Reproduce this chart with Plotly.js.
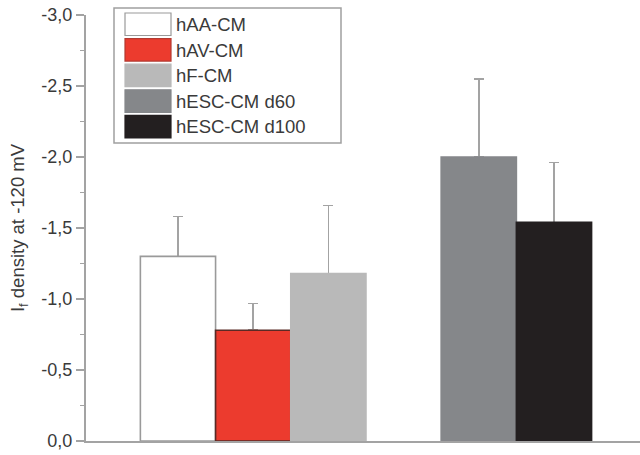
<!DOCTYPE html>
<html>
<head>
<meta charset="utf-8">
<script src="https://cdn.plot.ly/plotly-3.0.1.min.js"></script>
<style>html,body{margin:0;padding:0;background:#fff;}#chart{width:640px;height:455px;}</style>
</head>
<body>
<div id="chart"></div>
<script>
// ---- data ----
const groups = ["hAA-CM", "hAV-CM", "hF-CM", "hESC-CM d60", "hESC-CM d100"];
const positions = [0, 1, 2, 4, 5];
const means = [-1.30, -0.78, -1.18, -2.00, -1.54];
const errors = [0.28, 0.19, 0.48, 0.55, 0.42];
const fillColors = ["#ffffff", "#ec3b2e", "#b9b9b9", "#85878a", "#231f20"];
const lineColors = ["#9a9a9a", "#5a2a25", "#b9b9b9", "#85878a", "#231f20"];
const tickVals = [0, -0.5, -1.0, -1.5, -2.0, -2.5, -3.0];
const tickText = ["0,0", "-0,5", "-1,0", "-1,5", "-2,0", "-2,5", "-3,0"];

// ---- layout constants ----
const W = 640, H = 455, L = 86, R = 0, T = 15, B = 14;
const pw = W - L - R, ph = H - T - B;
const px = x => (x - L) / pw;
const py = y => (H - B - y) / ph;
const font = "Liberation Sans, Arial, Helvetica, sans-serif";

// error bars (drawn first, so the bars hide the lower cap)
const errTrace = {
  type: "bar",
  x: positions,
  y: means,
  width: 1,
  marker: { color: "rgba(0,0,0,0)", line: { width: 0 } },
  error_y: {
    type: "data", symmetric: false,
    array: means.map(() => 0), arrayminus: errors,
    color: "#a3a3a3", thickness: 1.5, width: 5
  },
  showlegend: false,
  hoverinfo: "skip"
};

const barTrace = {
  type: "bar",
  x: positions,
  y: means,
  width: 1,
  marker: { color: fillColors, line: { color: lineColors, width: 1.6 } },
  showlegend: false,
  hoverinfo: "skip"
};

// custom legend (swatches + labels) built from the group arrays
const shapes = [{
  type: "rect", xref: "paper", yref: "paper",
  x0: px(114), x1: px(341), y0: py(8), y1: py(143),
  line: { color: "#a0a0a0", width: 1.5 }, fillcolor: "rgba(255,255,255,1)", layer: "above"
}];
const annotations = [];
groups.forEach((g, i) => {
  const top = 13 + i * 25.6;
  shapes.push({
    type: "rect", xref: "paper", yref: "paper",
    x0: px(125), x1: px(171), y0: py(top), y1: py(top + 22.5),
    line: { color: i === 0 ? "#9a9a9a" : (i === 1 ? "#b23a30" : fillColors[i]), width: 1.2 },
    fillcolor: fillColors[i], layer: "above"
  });
  annotations.push({
    xref: "paper", yref: "paper", x: px(174), y: py(top + 11.5),
    xanchor: "left", yanchor: "middle", showarrow: false,
    text: g, font: { family: font, size: 18.5, color: "#3a3a3a" }
  });
});

const layout = {
  width: W, height: H,
  margin: { l: L, r: R, t: T, b: B },
  paper_bgcolor: "#ffffff", plot_bgcolor: "#ffffff",
  font: { family: font, color: "#3a3a3a" },
  barmode: "overlay",
  bargap: 0,
  xaxis: {
    range: [-1.223, 6.144], showticklabels: false, ticks: "",
    showgrid: false, zeroline: false,
    showline: true, linecolor: "#a3a3a3", linewidth: 2
  },
  yaxis: {
    range: [0, -3.0], showgrid: false, zeroline: false,
    showline: true, linecolor: "#a3a3a3", linewidth: 2,
    ticks: "outside", ticklen: 8, tickwidth: 1.5, tickcolor: "#a3a3a3",
    tickvals: tickVals, ticktext: tickText,
    tickfont: { family: font, size: 18, color: "#3a3a3a" },
    minor: { dtick: 0.25, ticks: "outside", ticklen: 4, tickwidth: 1.5, tickcolor: "#a3a3a3" },
    title: { text: "I<sub>f</sub> density at -120 mV", font: { family: font, size: 18.5, color: "#3a3a3a" }, standoff: 12 }
  },
  shapes: shapes,
  annotations: annotations
};

Plotly.newPlot("chart", [errTrace, barTrace], layout, { displayModeBar: false, staticPlot: true });
</script>
</body>
</html>
